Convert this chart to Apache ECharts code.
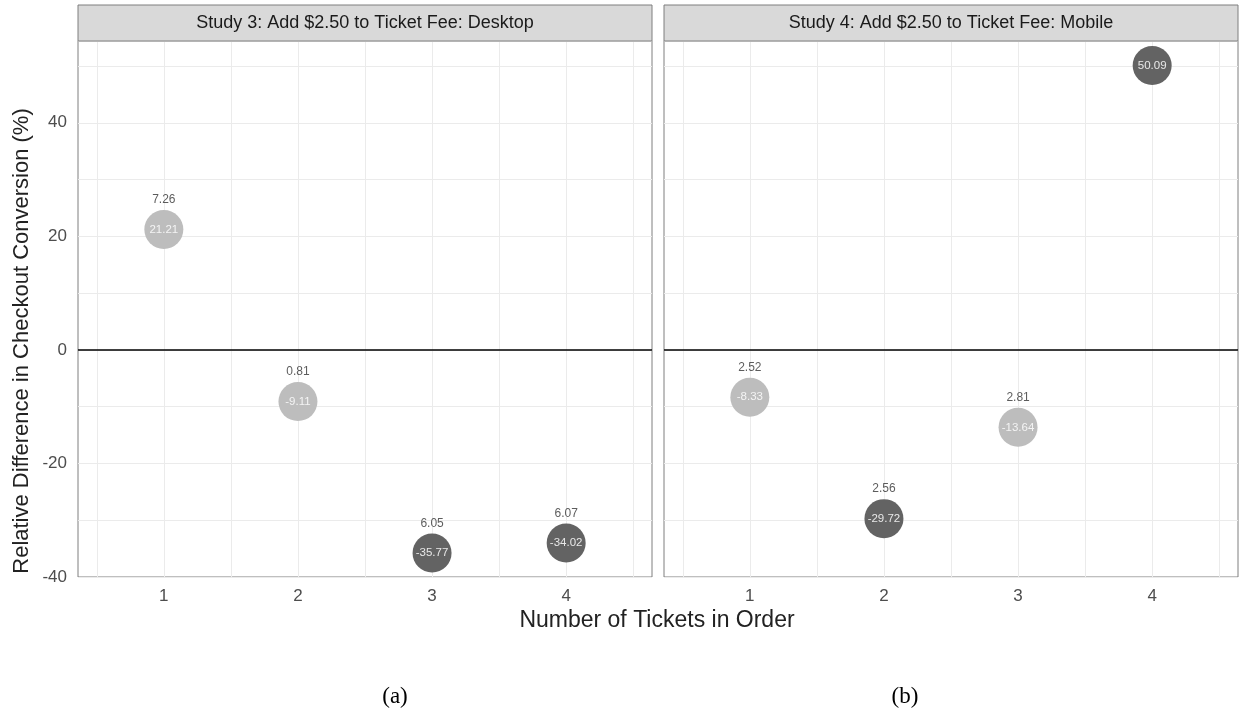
<!DOCTYPE html>
<html>
<head>
<meta charset="utf-8">
<script src="https://cdn.jsdelivr.net/npm/echarts@6/dist/echarts.min.js"></script>
<style>
html,body{margin:0;padding:0;background:#fff;}
#chart{width:1239px;height:721px;}
</style>
</head>
<body>
<div id="chart"></div>
<script>
// ---- data ----
var panelTitles = ['Study 3: Add $2.50 to Ticket Fee: Desktop', 'Study 4: Add $2.50 to Ticket Fee: Mobile'];
var tickets = [1, 2, 3, 4];
var desktopDiff = [21.21, -9.11, -35.77, -34.02];
var desktopTop = [7.26, 0.81, 6.05, 6.07];
var desktopDark = [false, false, true, true];
var mobileDiff = [-8.33, -29.72, -13.64, 50.09];
var mobileTop = [2.52, 2.56, 2.81, null];
var mobileDark = [false, true, false, true];
var xGrid = [0.5, 1, 1.5, 2, 2.5, 3, 3.5, 4, 4.5];
var yTicks = [-40, -20, 0, 20, 40];
var xTitle = 'Number of Tickets in Order';
var yTitle = 'Relative Difference in Checkout Conversion (%)';
var captions = ['(a)', '(b)'];

var LIGHT = '#bdbdbd', DARK = '#636363';
var FONT = '"Liberation Sans", Arial, sans-serif';

var panels = [
  {left: 78, diff: desktopDiff, top: desktopTop, dark: desktopDark, capX: 395},
  {left: 664, diff: mobileDiff, top: mobileTop, dark: mobileDark, capX: 905}
];
var W = 574, TOP = 41, H = 536;

var grids = [], xAxes = [], yAxes = [], series = [], graphics = [];
panels.forEach(function (p, i) {
  grids.push({left: p.left, top: TOP, width: W, height: H, show: true,
    borderColor: '#7f7f7f', borderWidth: 1, backgroundColor: '#fff', containLabel: false});
  xAxes.push({type: 'value', gridIndex: i, min: 0.36, max: 4.64,
    axisLine: {show: false},
    axisTick: {show: false, customValues: xGrid},
    axisLabel: {show: true, margin: 11, color: '#4d4d4d', fontSize: 17, fontFamily: FONT,
      customValues: tickets},
    splitLine: {show: true, lineStyle: {color: '#ebebeb', width: 1}}
  });
  yAxes.push({type: 'value', gridIndex: i, min: -40, max: 54.4, interval: 10,
    axisLine: {show: false}, axisTick: {show: false},
    axisLabel: {show: i === 0, margin: 11, color: '#4d4d4d', fontSize: 17, fontFamily: FONT,
      showMaxLabel: false,
      formatter: function (v) { return yTicks.indexOf(Math.round(v)) >= 0 ? String(Math.round(v)) : ''; }},
    splitLine: {show: true, lineStyle: {color: '#ebebeb', width: 1}}
  });
  var pts = tickets.map(function (t, k) {
    return {value: [t, p.diff[k], p.top[k]],
      itemStyle: {color: p.dark[k] ? DARK : LIGHT, opacity: 1},
      label: {color: p.dark[k] ? '#e8e8e8' : '#f4f4f4'}};
  });
  series.push({type: 'scatter', xAxisIndex: i, yAxisIndex: i, symbolSize: 39, z: 3,
    data: pts,
    itemStyle: {opacity: 1},
    label: {show: true, position: 'inside', fontSize: 11.5, fontFamily: FONT,
      formatter: function (d) { return d.value[1].toFixed(2); }},
    markLine: {silent: true, symbol: 'none', label: {show: false},
      lineStyle: {color: '#000', width: 1.6, type: 'solid'}, data: [{yAxis: 0}]}
  });
  series.push({type: 'scatter', xAxisIndex: i, yAxisIndex: i, symbolSize: 39, z: 4, silent: true,
    data: tickets.map(function (t, k) { return {value: [t, p.diff[k], p.top[k]]}; }),
    itemStyle: {color: 'rgba(0,0,0,0)'},
    label: {show: true, position: 'top', distance: 4, color: '#333', fontSize: 12, fontFamily: FONT,
      formatter: function (d) { return d.value[2] == null ? '' : d.value[2].toFixed(2); }}
  });
  graphics.push({type: 'rect', shape: {x: p.left, y: 5, width: W, height: TOP - 5},
    style: {fill: '#d9d9d9', stroke: '#7f7f7f', lineWidth: 1}, z: 10});
  graphics.push({type: 'text', x: p.left + W / 2, y: 23, z: 11,
    style: {text: panelTitles[i], fill: '#1a1a1a', font: '18px ' + FONT,
      textAlign: 'center', textVerticalAlign: 'middle'}});
  graphics.push({type: 'text', x: p.capX, y: 697, z: 11,
    style: {text: captions[i], fill: '#000', font: '23px "Liberation Serif", "Times New Roman", serif',
      textAlign: 'center', textVerticalAlign: 'middle'}});
});
graphics.push({type: 'text', x: 657, y: 621, z: 11,
  style: {text: xTitle, fill: '#222', font: '23px ' + FONT, textAlign: 'center', textVerticalAlign: 'middle'}});
graphics.push({type: 'text', x: 22, y: 341, rotation: Math.PI / 2, z: 11,
  style: {text: yTitle, fill: '#222', font: '22px ' + FONT, textAlign: 'center', textVerticalAlign: 'middle'}});

var chart = echarts.init(document.getElementById('chart'), null, {renderer: 'canvas'});
chart.setOption({
  animation: false,
  backgroundColor: '#fff',
  grid: grids, xAxis: xAxes, yAxis: yAxes, series: series, graphic: graphics
});
</script>
</body>
</html>
